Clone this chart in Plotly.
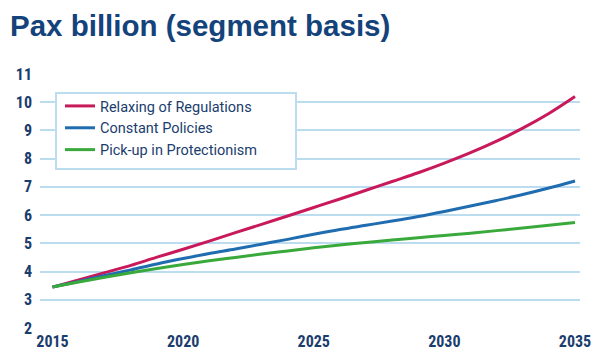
import plotly.graph_objects as go

years = list(range(2015, 2036))
relaxing = [3.45, 3.70, 3.96, 4.22, 4.51, 4.79, 5.08, 5.38, 5.67, 5.97, 6.27,
            6.57, 6.88, 7.19, 7.50, 7.84, 8.21, 8.62, 9.08, 9.60, 10.20]
constant = [3.45, 3.65, 3.86, 4.06, 4.27, 4.46, 4.64, 4.80, 4.97, 5.14, 5.32,
            5.49, 5.64, 5.79, 5.95, 6.13, 6.32, 6.52, 6.73, 6.96, 7.21]
protection = [3.45, 3.63, 3.80, 3.96, 4.11, 4.25, 4.38, 4.50, 4.62, 4.73, 4.84,
              4.94, 5.03, 5.12, 5.20, 5.28, 5.36, 5.45, 5.54, 5.64, 5.74]
series_names = ["Relaxing of Regulations", "Constant Policies", "Pick-up in Protectionism"]
colors = ["#c8195a", "#1f6db0", "#3aa93c"]
x_ticks = [2015, 2020, 2025, 2030, 2035]
y_ticks = list(range(2, 12))

# page body has an 8px margin, so the figure is laid out shifted by -8px
OFF = 8
L, R, T, B = 40 - OFF, 580 - OFF, 74 - OFF, 328 - OFF
W, H = 600, 362
PW, PH = R - L, B - T

TICK_FONT = dict(family="Roboto Condensed, Liberation Sans Narrow, sans-serif",
                 size=16, color="#1b3d6d", weight="bold")

fig = go.Figure()
for name, vals, c in zip(series_names, [relaxing, constant, protection], colors):
    fig.add_trace(go.Scatter(x=years, y=vals, mode="lines", name=name,
                             line=dict(color=c, width=3, shape="spline")))

fig.update_layout(
    width=W, height=H,
    margin=dict(l=L, r=W - R, t=T, b=H - B),
    plot_bgcolor="white", paper_bgcolor="white",
    title=dict(text="<b>Pax billion (segment basis)</b>", x=(10 - OFF) / W, xref="container",
               xanchor="left", y=1 - (26 - OFF) / H, yref="container", yanchor="middle",
               font=dict(family="Liberation Sans, Arial, sans-serif", size=29.5, color="#13437a")),
    xaxis=dict(range=[2014.5215, 2035.1914], tickvals=x_ticks, showgrid=False, zeroline=False,
               showline=False, ticks="", tickfont=TICK_FONT, automargin=False,
               ticklabelstandoff=2),
    yaxis=dict(range=[2, 11], tickvals=y_ticks, showgrid=True, gridcolor="#bcdcef", gridwidth=1.5,
               zeroline=False, showline=False, ticks="", tickfont=TICK_FONT, ticklabelstandoff=7,
               automargin=False),
    legend=dict(x=(56 - 40 + 4) / PW, y=(PH - (93 - 74) + 3) / PH, xanchor="left", yanchor="top",
                bgcolor="rgba(0,0,0,0)", borderwidth=0, itemwidth=30,
                font=dict(family="Roboto, Liberation Sans, sans-serif", size=14.5, color="#1b3d6d")),
    shapes=[dict(type="rect", xref="paper", yref="paper",
                 x0=(56 - 40) / PW, x1=(296 - 40) / PW,
                 y0=(PH - (169 - 74)) / PH, y1=(PH - (93 - 74)) / PH,
                 line=dict(color="#bcdcef", width=2), fillcolor="white", layer="above")],
)

fig.write_html("out.html")
